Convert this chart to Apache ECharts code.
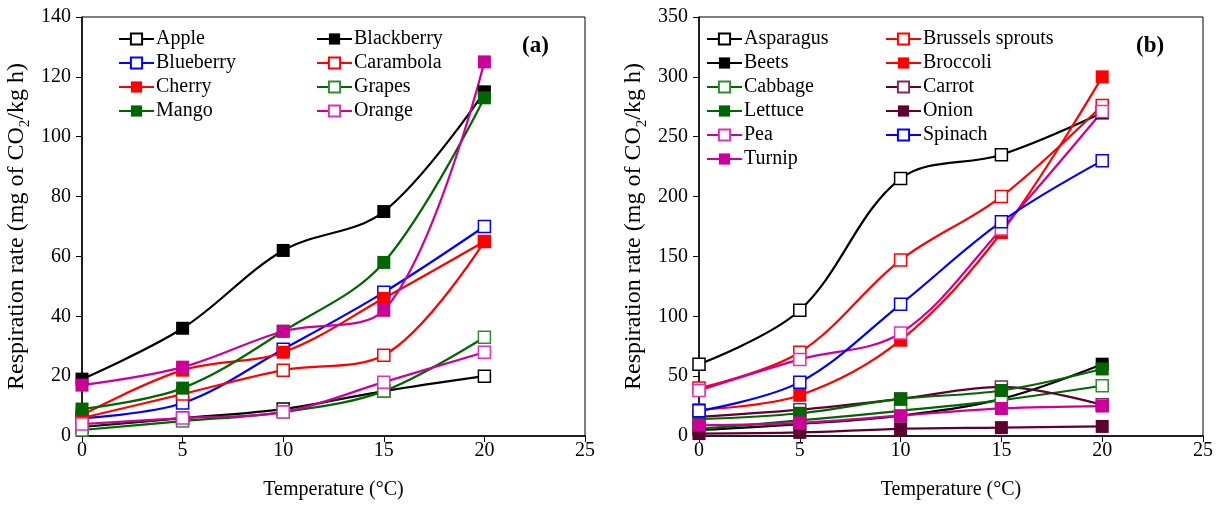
<!DOCTYPE html>
<html>
<head>
<meta charset="utf-8">
<script src="https://cdn.jsdelivr.net/npm/echarts@6/dist/echarts.min.js"></script>
<style>
  html, body { margin: 0; padding: 0; background: #fff; }
  #chart { width: 1221px; height: 505px; }
</style>
</head>
<body>
<div id="chart"></div>
<script>
// Storage temperatures (°C)
const temps = [0, 5, 10, 15, 20];

// Panel (a): fruits, respiration rate (mg CO2 / kg h)
const apple      = [3, 6, 9, 15, 20];
const blackberry = [19, 36, 62, 75, 115];
const blueberry  = [6, 11, 29, 48, 70];
const carambola  = [6, 14, 22, 27, 65];
const cherry     = [7, 22, 28, 46, 65];
const grapes     = [2, 5, 8, 15, 33];
const mango      = [9, 16, 35, 58, 113];
const orange     = [4, 6, 8, 18, 28];
const strawberry = [17, 23, 35, 42, 125];

// Panel (b): vegetables
const asparagus = [60, 105, 215, 235, 270];
const brussels  = [40, 70, 147, 200, 276];
const beets     = [5, 10, 17, 31, 60];
const broccoli  = [22, 34, 80, 170, 300];
const cabbage   = [6, 13, 21, 30, 42];
const carrot    = [16, 22, 31, 41, 26];
const lettuce   = [14, 19, 31, 38, 56];
const onion     = [2, 3, 6, 7, 8];
const pea       = [38, 64, 86, 173, 271];
const spinach   = [21, 45, 110, 179, 230];
const turnip    = [9, 11, 17, 23, 25];

// Axis ticks
const xTicks = { min: 0, max: 25, interval: 5 };
const yTicksA = { min: 0, max: 140, interval: 20 };
const yTicksB = { min: 0, max: 350, interval: 50 };

const FONT = '"Liberation Serif", "Times New Roman", serif';

function pairs(vals) { return temps.map((t, i) => [t, vals[i]]); }

// open = white square with coloured outline, filled = solid square
function mkSeries(name, vals, color, open, panel, lineColor) {
  return {
    name: name,
    type: 'line',
    xAxisIndex: panel,
    yAxisIndex: panel,
    data: pairs(vals),
    smooth: 0.35,
    symbol: 'rect',
    symbolSize: open ? 12 : 13,
    showSymbol: true,
    lineStyle: { color: lineColor || color, width: 2.2 },
    itemStyle: open
      ? { color: '#ffffff', borderColor: color, borderWidth: 1.5 }
      : { color: color, borderColor: color, borderWidth: 0 },
    emphasis: { disabled: true },
    z: 2
  };
}

const BLACK = '#000000', BLUE = '#0000ff', RED = '#ff0000';
const GREEN = '#006600', GREEN_OPEN = '#2e8b2e';
const MAGENTA = '#cc0099', MAGENTA_OPEN = '#dd33bb';
const MAROON = '#5e0032', MAROON_OPEN = '#7f2a5a';

const series = [
  mkSeries('Apple', apple, BLACK, true, 0),
  mkSeries('Blackberry', blackberry, BLACK, false, 0),
  mkSeries('Blueberry', blueberry, BLUE, true, 0),
  mkSeries('Carambola', carambola, RED, true, 0),
  mkSeries('Cherry', cherry, RED, false, 0),
  mkSeries('Grapes', grapes, GREEN_OPEN, true, 0, GREEN),
  mkSeries('Mango', mango, GREEN, false, 0),
  mkSeries('Orange', orange, MAGENTA_OPEN, true, 0, MAGENTA),
  mkSeries('Strawberry', strawberry, MAGENTA, false, 0),

  mkSeries('Asparagus', asparagus, BLACK, true, 1),
  mkSeries('Brussels sprouts', brussels, RED, true, 1),
  mkSeries('Beets', beets, BLACK, false, 1),
  mkSeries('Broccoli', broccoli, RED, false, 1),
  mkSeries('Cabbage', cabbage, GREEN_OPEN, true, 1, GREEN),
  mkSeries('Carrot', carrot, MAROON_OPEN, true, 1, MAROON),
  mkSeries('Lettuce', lettuce, GREEN, false, 1),
  mkSeries('Onion', onion, MAROON, false, 1),
  mkSeries('Pea', pea, MAGENTA_OPEN, true, 1, MAGENTA),
  mkSeries('Spinach', spinach, BLUE, true, 1),
  mkSeries('Turnip', turnip, MAGENTA, false, 1)
];

function legend(names, left, top) {
  return {
    data: names,
    orient: 'vertical',
    left: left,
    top: top,
    padding: 0,
    itemWidth: 35,
    itemHeight: 14,
    itemGap: 4,
    selectedMode: false,
    textStyle: { fontFamily: FONT, fontSize: 20, color: '#000', padding: [0, 0, 0, -3] }
  };
}

function xAxis(grid) {
  return {
    type: 'value', gridIndex: grid,
    min: xTicks.min, max: xTicks.max, interval: xTicks.interval,
    name: 'Temperature (°C)', nameLocation: 'middle', nameGap: 44,
    nameTextStyle: { fontFamily: FONT, fontSize: 20, color: '#000' },
    axisLine: { show: true, onZero: false, lineStyle: { color: '#000', width: 1.5 } },
    axisTick: { show: true, inside: false, length: 6, lineStyle: { color: '#000' } },
    axisLabel: { fontFamily: FONT, fontSize: 20, color: '#000', margin: 5 },
    splitLine: { show: false }
  };
}

function yAxis(grid, t) {
  return {
    type: 'value', gridIndex: grid,
    min: t.min, max: t.max, interval: t.interval,
    name: '{n|Respiration rate (mg of CO}{s|2}{n|/kg h)}',
    nameLocation: 'middle', nameGap: 49, nameRotate: 90,
    nameTextStyle: {
      fontFamily: FONT, color: '#000',
      rich: {
        n: { fontFamily: FONT, fontSize: 24, lineHeight: 24, verticalAlign: 'top', color: '#000' },
        s: { fontFamily: FONT, fontSize: 15, lineHeight: 28, verticalAlign: 'bottom', color: '#000' }
      }
    },
    axisLine: { show: true, onZero: false, lineStyle: { color: '#000', width: 1.5 } },
    axisTick: { show: true, inside: false, length: 6, lineStyle: { color: '#000' } },
    axisLabel: { fontFamily: FONT, fontSize: 20, color: '#000', margin: 11 },
    splitLine: { show: false }
  };
}

const chart = echarts.init(document.getElementById('chart'), null, { renderer: 'canvas' });
chart.setOption({
  animation: false,
  backgroundColor: '#ffffff',
  grid: [
    { left: 82, right: 636, top: 17, bottom: 69, outerBoundsMode: 'none', containLabel: false,
      show: true, borderColor: '#000', borderWidth: 1, backgroundColor: 'transparent' },
    { left: 699, right: 18, top: 17, bottom: 69, outerBoundsMode: 'none', containLabel: false,
      show: true, borderColor: '#000', borderWidth: 1, backgroundColor: 'transparent' }
  ],
  title: [
    { text: '(a)', left: 517, top: 30, textStyle: { fontFamily: FONT, fontSize: 23, fontWeight: 'bold', color: '#000' } },
    { text: '(b)', left: 1131, top: 30, textStyle: { fontFamily: FONT, fontSize: 23, fontWeight: 'bold', color: '#000' } }
  ],
  legend: [
    legend(['Apple', 'Blueberry', 'Cherry', 'Mango'], 118, 29),
    legend(['Blackberry', 'Carambola', 'Grapes', 'Orange'], 316, 29),
    legend(['Asparagus', 'Beets', 'Cabbage', 'Lettuce', 'Pea', 'Turnip'], 706, 29),
    legend(['Brussels sprouts', 'Broccoli', 'Carrot', 'Onion', 'Spinach'], 885, 29)
  ],
  xAxis: [xAxis(0), xAxis(1)],
  yAxis: [yAxis(0, yTicksA), yAxis(1, yTicksB)],
  series: series
});
</script>
</body>
</html>
